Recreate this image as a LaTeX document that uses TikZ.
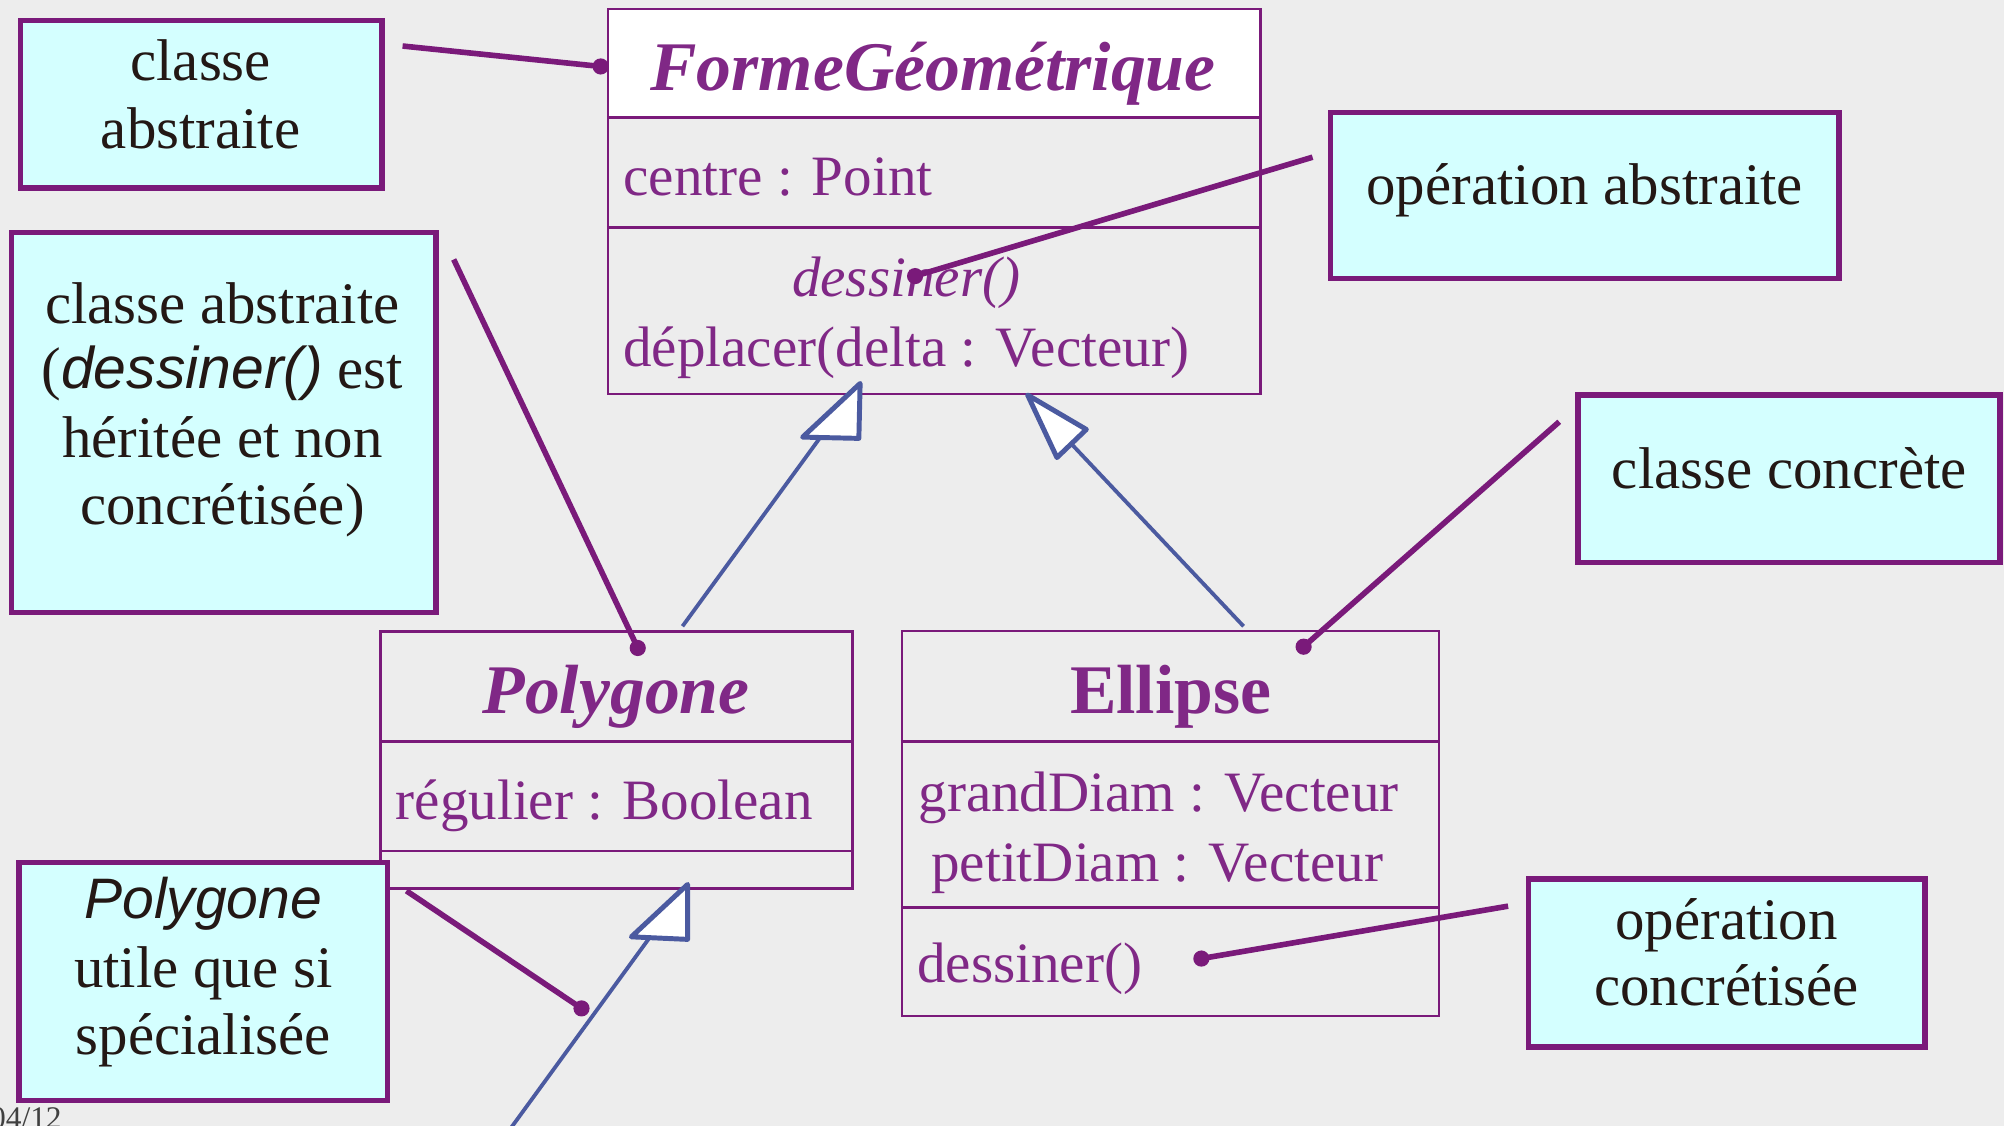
\documentclass[tikz,border=0pt]{standalone}
\usepackage{fontspec}
\setmainfont{Liberation Serif}
\setsansfont{Liberation Sans}

\definecolor{paper}{RGB}{237,237,237}
\definecolor{plum}{RGB}{122,26,122}
\definecolor{plumtext}{RGB}{128,40,134}
\definecolor{notefill}{RGB}{212,255,255}
\definecolor{inkblue}{RGB}{75,90,160}
\definecolor{ink}{RGB}{35,24,21}

\begin{document}
\begin{tikzpicture}[x=0.01cm,y=-0.01cm,
  note/.style={draw=plum, line width=1.25pt, fill=notefill, inner sep=0pt},
  cls/.style={draw=plum, line width=0.55pt, inner sep=0pt},
  divider/.style={draw=plum, line width=0.55pt},
  notetext/.style={text=ink, font=\fontsize{13.1}{15}\selectfont, inner sep=0pt, anchor=base},
  notesans/.style={text=ink, font=\fontsize{12.7}{15}\selectfont\sffamily\itshape, inner sep=0pt, anchor=base},
  member/.style={text=plumtext, font=\fontsize{12.7}{15}\selectfont, inner sep=0pt, anchor=base west},
  opabstract/.style={text=plumtext, font=\fontsize{12.7}{15}\selectfont\itshape, inner sep=0pt, anchor=base},
  clsname/.style={text=plumtext, font=\fontsize{15.5}{18}\selectfont\bfseries, inner sep=0pt, anchor=base},
  clsnameit/.style={text=plumtext, font=\fontsize{15.5}{18}\selectfont\bfseries\itshape, inner sep=0pt, anchor=base},
  link/.style={draw=plum, line width=1.25pt},
  gen/.style={draw=inkblue, line width=0.85pt},
  genhead/.style={draw=inkblue, line width=1.1pt, fill=white, line join=round},
]
\useasboundingbox (0,0) rectangle (1568,881);
\fill[paper] (0,0) rectangle (1568,881);

% ---------- classes ----------
\fill[white] (476,7) rectangle (986,92);
\node[cls, minimum width=5.10cm, minimum height=3.01cm] (fg) at (731,157.5) {};
\draw[divider] (fg.west |- 0,92) -- (fg.east |- 0,92);
\draw[divider] (fg.west |- 0,178) -- (fg.east |- 0,178);
\node[clsnameit] (fgname) at (730,71) {FormeGéométrique};
\node[member] (fgattr) at (487,153) {centre : Point};
\node[opabstract] (fgdraw) at (709,232) {dessiner()};
\node[member] (fgmove) at (487,287) {déplacer(delta : Vecteur)};

\node[cls, minimum width=3.69cm, minimum height=2.01cm] (poly) at (482.5,594.5) {};
\draw[divider] (poly.west |- 0,580) -- (poly.east |- 0,580);
\draw[divider] (poly.west |- 0,666) -- (poly.east |- 0,666);
\node[clsnameit] (polyname) at (482,558) {Polygone};
\node[member] (polyattr) at (309,641) {régulier : Boolean};

\node[cls, minimum width=4.20cm, minimum height=3.01cm] (ell) at (916,644.5) {};
\draw[divider] (ell.west |- 0,580) -- (ell.east |- 0,580);
\draw[divider] (ell.west |- 0,710) -- (ell.east |- 0,710);
\node[clsname] (ellname) at (916,558) {Ellipse};
\node[member] (ellattra) at (718,635) {grandDiam : Vecteur};
\node[member] (ellattrb) at (728,690) {petitDiam : Vecteur};
\node[member] (elldraw) at (717,769) {dessiner()};

% ---------- notes ----------
\node[note, minimum width=2.83cm, minimum height=1.31cm] (n1) at (157.5,81.5) {};
\node[notetext] (n1a) at (157,63) {classe};
\node[notetext] (n1b) at (157,116) {abstraite};

\node[note, minimum width=3.32cm, minimum height=2.97cm] (n2) at (175,330.5) {};
\node[notetext] (n2a) at (174,253) {classe abstraite};
\node[notetext] (n2b) at (174,304) {(\textsf{\itshape dessiner()} est};
\node[notetext] (n2c) at (174,358) {héritée et non};
\node[notetext] (n2d) at (174,410) {concrétisée)};

\node[note, minimum width=3.98cm, minimum height=1.30cm] (n3) at (1240,153) {};
\node[notetext] (n3a) at (1240,160) {opération abstraite};

\node[note, minimum width=3.30cm, minimum height=1.31cm] (n4) at (1400,374.5) {};
\node[notetext] (n4a) at (1400,382) {classe concrète};

\node[note, minimum width=3.10cm, minimum height=1.31cm] (n5) at (1351,753.5) {};
\node[notetext] (n5a) at (1351,735) {opération};
\node[notetext] (n5b) at (1351,787) {concrétisée};

\node[note, minimum width=2.88cm, minimum height=1.86cm] (n6) at (159,768) {};
\node[notesans] (n6a) at (159,719) {Polygone};
\node[notetext] (n6b) at (159,773) {utile que si};
\node[notetext] (n6c) at (159,825) {spécialisée};

% ---------- note links ending in dots ----------
\coordinate (l1s) at (315,36);   \coordinate (l1e) at (470,52);
\coordinate (l2s) at (1027,123); \coordinate (l2e) at (716,216);
\coordinate (l3s) at (355,203);  \coordinate (l3e) at (499,507);
\coordinate (l4s) at (1220,330); \coordinate (l4e) at (1020,506);
\coordinate (l5s) at (1180,709); \coordinate (l5e) at (940,750);
\coordinate (l6s) at (318,697);  \coordinate (l6e) at (455,789);
\foreach \k in {1,...,6}{
  \draw[link] (l\k s) -- (l\k e);
  \fill[plum] (l\k e) circle[radius=1.8pt];
}

% ---------- generalisations ----------
\coordinate (g1s) at (534,490);  \coordinate (g1b) at (642,342);
\coordinate (g1t) at (673,300);
\draw[gen] (g1s) -- (g1b);
\draw[genhead] (g1t) -- (628,342) -- (672,343) -- cycle;

\coordinate (g2s) at (973,490);  \coordinate (g2b) at (838,347);
\coordinate (g2t) at (804,309);
\draw[gen] (g2s) -- (g2b);
\draw[genhead] (g2t) -- (850,336) -- (827,358) -- cycle;

\coordinate (g3s) at (398,885);  \coordinate (g3b) at (508,734);
\coordinate (g3t) at (538,692);
\draw[gen] (g3s) -- (g3b);
\draw[genhead] (g3t) -- (494,733) -- (538,735) -- cycle;

% ---------- page number ----------
\node[anchor=base east, inner sep=0pt, text=black!75, font=\fontsize{7}{8}\selectfont] (pagenum) at (49,883) {04/12};
\end{tikzpicture}
\end{document}
